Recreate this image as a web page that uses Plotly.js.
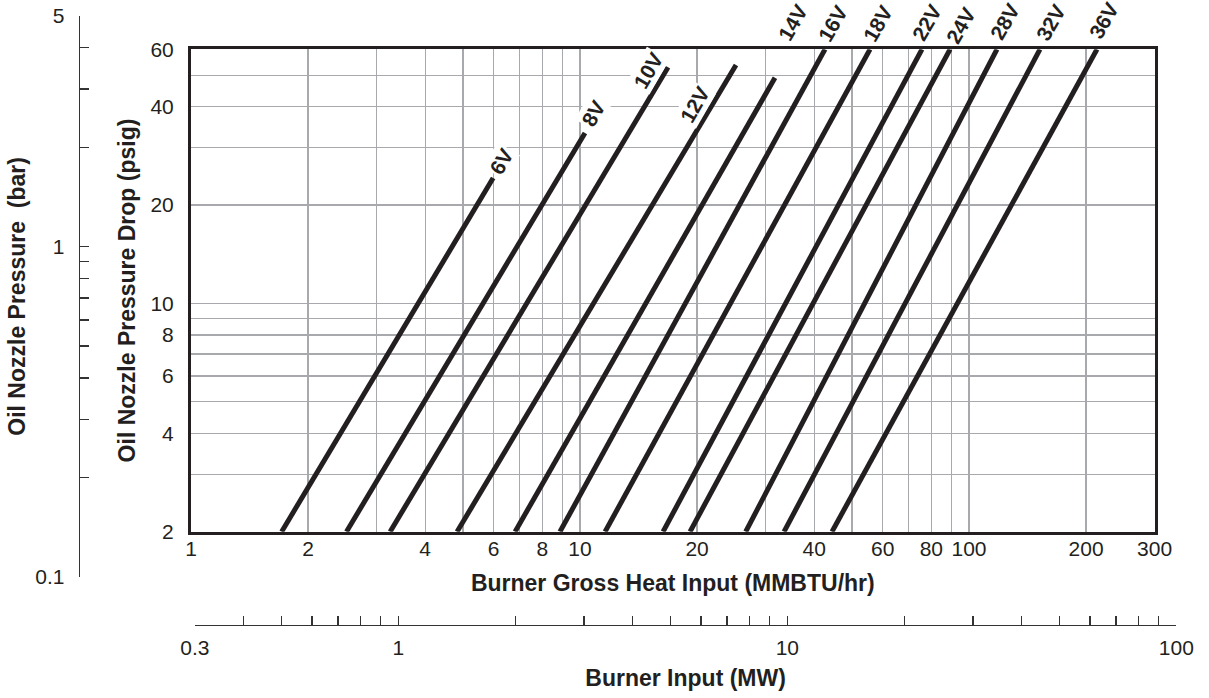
<!DOCTYPE html>
<html>
<head>
<meta charset="utf-8">
<script src="https://cdn.plot.ly/plotly-3.0.1.min.js"></script>
<style>html,body{margin:0;padding:0;background:#fff;}#chart{width:1209px;height:698px;}</style>
</head>
<body>
<div id="chart"></div>
<script>
// ---- data ----
const valves = ['6V','8V','10V','12V','14V','16V','18V','22V','24V','28V','32V','36V'];
// heat input (MMBTU/hr) where each valve line starts at the 2 psig baseline
const heatStart = [1.71, 2.51, 3.25, 4.83, 6.81, 8.88, 11.6, 16.35, 19.18, 26.67, 33.46, 44.44];
const psigStart = [2, 2, 2, 2, 2, 2, 2, 2, 2, 2, 2, 2];
// heat input and pressure drop where each line ends
const heatEnd = [5.98, 10.3, 16.84, 25.18, 31.71, 42.64, 55.66, 75.7, 89.4, 118.0, 152.2, 213.3];
const psigEnd = [24.2, 33.25, 52.9, 53.7, 49.1, 60, 60, 60, 60, 60, 60, 60];

const heatTicks = [1,2,3,4,5,6,7,8,9,10,20,30,40,50,60,70,80,90,100,200,300];
const heatLabels = ['1','2','','4','','6','','8','','10','20','','40','','60','','80','','100','200','300'];
const psigTicks = [2,3,4,5,6,7,8,9,10,20,30,40,50,60];
const psigLabels = ['2','','4','','6','','8','','10','20','','40','','60'];
const barTicks = [0.1,0.2,0.3,0.4,0.5,0.6,0.7,0.8,0.9,1,2,3,4,5];
const barLabels = ['0.1','','','','','','','','','1','','','','5'];
const mwTicks = [0.3,0.4,0.5,0.6,0.7,0.8,0.9,1,2,3,4,5,6,7,8,9,10,20,30,40,50,60,70,80,90,100];
const mwLabels = ['0.3','','','','','','','1','','','','','','','','','10','','','','','','','','','100'];

// ---- layout helpers (pixel -> paper) ----
const W = 1209, H = 698;
const px = x => x / W;
const py = y => 1 - y / H;
const ink = '#231f20';
const FONT = 'Liberation Sans, Arial, Helvetica, sans-serif';

// label centres (pixels) for the valve-size tags
const labelPos = [[501,161],[593,113],[648,70],[694,105],[792,23],[832,24],[877,24],[926,23],[960,26],[1004,22],[1050,23],[1103,21]];

const traces = valves.map((v, i) => ({
  type: 'scatter', mode: 'lines', name: v,
  x: [heatStart[i], heatEnd[i]],
  y: [psigStart[i], psigEnd[i]],
  xaxis: 'x', yaxis: 'y',
  line: {color: ink, width: 5},
  hoverinfo: 'x+y+name', showlegend: false
}));
// empty traces so the secondary axes get their own subplots
traces.push({type:'scatter', x:[], y:[], xaxis:'x3', yaxis:'y2', showlegend:false, hoverinfo:'skip'});
traces.push({type:'scatter', x:[], y:[], xaxis:'x2', yaxis:'y3', showlegend:false, hoverinfo:'skip'});

const annotations = valves.map((v, i) => ({
  text: '<b>' + v + '</b>',
  xref: 'paper', yref: 'paper',
  x: px(labelPos[i][0]), y: py(labelPos[i][1]),
  xanchor: 'center', yanchor: 'middle',
  showarrow: false, textangle: -60,
  font: {family: FONT, size: 21, color: ink},
  bgcolor: i < 4 ? '#ffffff' : 'rgba(0,0,0,0)',
  borderpad: 1
}));

const layout = {
  width: W, height: H,
  margin: {l: 0, r: 0, t: 0, b: 0},
  paper_bgcolor: '#ffffff', plot_bgcolor: '#ffffff',
  font: {family: FONT, color: ink, size: 21},
  showlegend: false,
  xaxis: {
    type: 'log', range: [0, Math.log10(300)],
    domain: [px(191), px(1154.6)], anchor: 'y',
    tickvals: heatTicks, ticktext: heatLabels,
    ticks: '', ticklen: 0, ticklabelstandoff: -4,
    tickfont: {size: 21, color: ink},
    showgrid: true, gridcolor: '#a7a9ac', gridwidth: 1.3,
    showline: true, linecolor: ink, linewidth: 3, mirror: true,
    zeroline: false, automargin: false,
    title: {text: '<b>Burner Gross Heat Input (MMBTU/hr)</b>', font: {size: 23, color: ink}, standoff: 16}
  },
  yaxis: {
    type: 'log', range: [Math.log10(2), Math.log10(60)],
    domain: [py(531.7), py(49.3)], anchor: 'x',
    tickvals: psigTicks, ticktext: psigLabels,
    ticks: '', ticklen: 0, ticklabelstandoff: 10,
    tickfont: {size: 21, color: ink},
    showgrid: true, gridcolor: '#a7a9ac', gridwidth: 1.3,
    showline: true, linecolor: ink, linewidth: 3, mirror: true,
    zeroline: false, automargin: false,
    title: {text: '<b>Oil Nozzle Pressure Drop (psig)</b>', font: {size: 23, color: ink}, standoff: 9}
  },
  xaxis3: {domain: [px(80), px(82)], anchor: 'y2', visible: false, showgrid: false, zeroline: false},
  yaxis2: {
    type: 'log', range: [-1, Math.log10(5)],
    domain: [py(577), py(15.8)], anchor: 'x3', side: 'left',
    tickvals: barTicks, ticktext: barLabels,
    ticks: 'inside', ticklen: 9, tickwidth: 1.3, tickcolor: '#333333',
    ticklabelstandoff: 10,
    tickfont: {size: 21, color: ink},
    showgrid: false, zeroline: false,
    showline: true, linecolor: '#333333', linewidth: 1.3,
    automargin: false,
    title: {text: '<b>Oil Nozzle Pressure  (bar)</b>', font: {size: 23, color: ink}, standoff: 3}
  },
  yaxis3: {domain: [py(625), py(620)], anchor: 'x2', visible: false, showgrid: false, zeroline: false},
  xaxis2: {
    type: 'log', range: [Math.log10(0.3), 2],
    domain: [px(194.9), px(1176.3)], anchor: 'y3', side: 'bottom',
    tickvals: mwTicks, ticktext: mwLabels,
    ticks: 'inside', ticklen: 9, tickwidth: 1.3, tickcolor: '#333333',
    ticklabelstandoff: 3,
    tickfont: {size: 21, color: ink},
    showgrid: false, zeroline: false,
    showline: true, linecolor: '#333333', linewidth: 1.3,
    automargin: false,
    title: {text: '<b>Burner Input (MW)</b>', font: {size: 23, color: ink}, standoff: 12}
  },
  annotations: annotations
};

Plotly.newPlot('chart', traces, layout, {staticPlot: true, displayModeBar: false});
</script>
</body>
</html>
